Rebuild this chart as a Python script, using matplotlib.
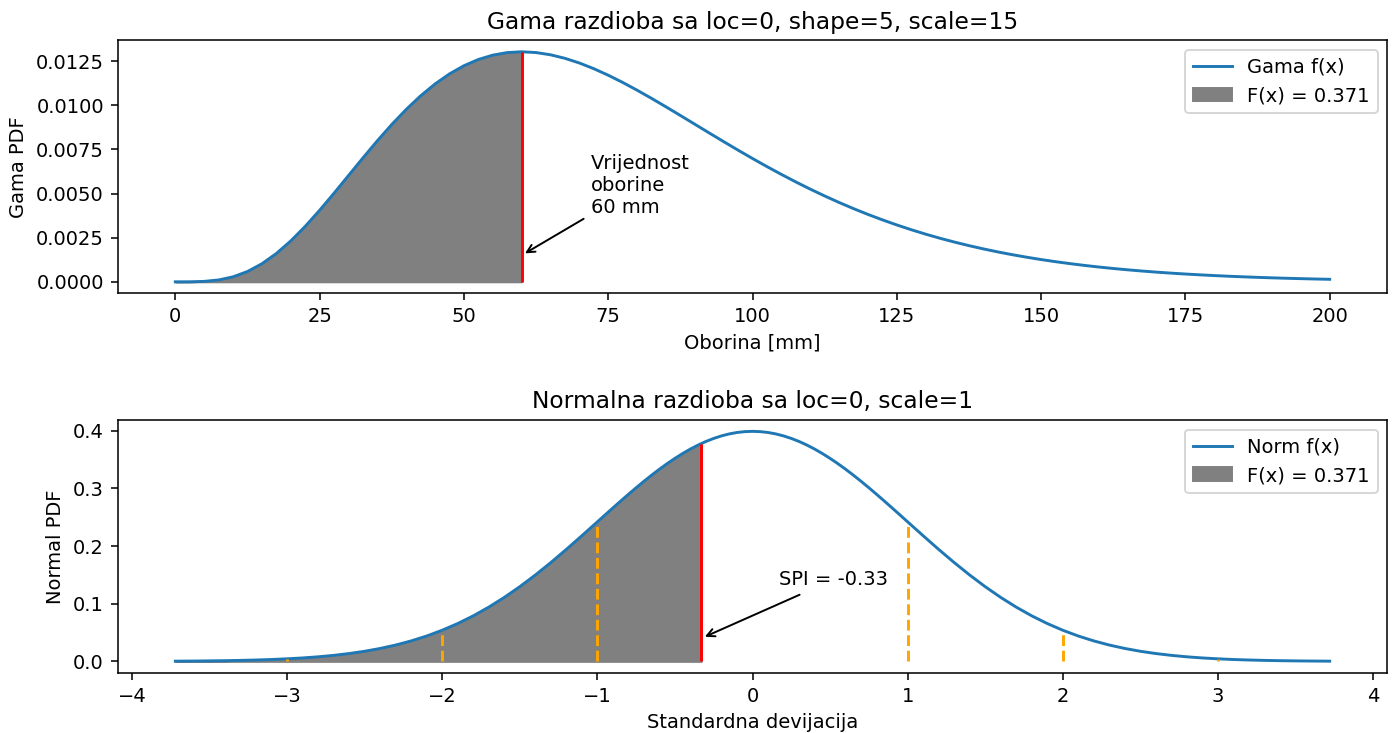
import numpy as np
import matplotlib
matplotlib.use("Agg")
import matplotlib.pyplot as plt

# gamma pdf (loc=0, shape=5, scale=15), read every 2.5 mm
gama_x = [0, 2.5, 5, 7.5, 10, 12.5, 15, 17.5, 20, 22.5, 25, 27.5, 30, 32.5, 35, 37.5, 40,
          42.5, 45, 47.5, 50, 52.5, 55, 57.5, 60, 62.5, 65, 67.5, 70, 72.5, 75, 77.5, 80,
          82.5, 85, 87.5, 90, 92.5, 95, 97.5, 100, 102.5, 105, 107.5, 110, 112.5, 115,
          117.5, 120, 122.5, 125, 127.5, 130, 132.5, 135, 137.5, 140, 142.5, 145, 147.5,
          150, 152.5, 155, 157.5, 160, 162.5, 165, 167.5, 170, 172.5, 175, 177.5, 180,
          182.5, 185, 187.5, 190, 192.5, 195, 197.5, 200]
gama_pdf = [0.0, 0.0000018, 0.0000246, 0.0001053, 0.0002817, 0.0005822, 0.0010219, 0.0016025,
            0.0023142, 0.0031378, 0.0040483, 0.0050172, 0.0060149, 0.0070129, 0.0079846,
            0.0089068, 0.0097600, 0.0105291, 0.0112021, 0.0117719, 0.0122339, 0.0125873,
            0.0128341, 0.0129779, 0.0130244, 0.0129805, 0.0128544, 0.0126538, 0.0123898,
            0.0120668, 0.0116978, 0.0112899, 0.0108504, 0.0103880, 0.0099083, 0.0094185,
            0.0089235, 0.0084284, 0.0079379, 0.0074546, 0.0069827, 0.0065241, 0.0060818,
            0.0056560, 0.0052491, 0.0048611, 0.0044923, 0.0041448, 0.0038168, 0.0035086,
            0.0032198, 0.0029503, 0.0026989, 0.0024656, 0.0022491, 0.0020488, 0.0018639,
            0.0016935, 0.0015368, 0.0013930, 0.0012611, 0.0011405, 0.0010303, 0.0009297,
            0.0008381, 0.0007549, 0.0006793, 0.0006106, 0.0005484, 0.0004922, 0.0004413,
            0.0003954, 0.0003539, 0.0003166, 0.0002830, 0.0002527, 0.0002256, 0.0002012,
            0.0001793, 0.0001597, 0.0001422]

# standard normal pdf
norm_x = [-3.72, -3.7, -3.6, -3.5, -3.4, -3.3, -3.2, -3.1, -3.0, -2.9, -2.8, -2.7, -2.6, -2.5,
          -2.4, -2.3, -2.2, -2.1, -2.0, -1.9, -1.8, -1.7, -1.6, -1.5, -1.4, -1.3, -1.2, -1.1,
          -1.0, -0.95, -0.9, -0.85, -0.8, -0.75, -0.7, -0.65, -0.6, -0.55, -0.5, -0.45,
          -0.4, -0.35, -0.3, -0.25, -0.2, -0.15, -0.1, -0.05, 0.0, 0.05, 0.1, 0.15, 0.2,
          0.25, 0.3, 0.35, 0.4, 0.45, 0.5, 0.55, 0.6, 0.65, 0.7, 0.75, 0.8, 0.85, 0.9, 0.95,
          1.0, 1.1, 1.2, 1.3, 1.4, 1.5, 1.6, 1.7, 1.8, 1.9, 2.0, 2.1, 2.2, 2.3, 2.4, 2.5,
          2.6, 2.7, 2.8, 2.9, 3.0, 3.1, 3.2, 3.3, 3.4, 3.5, 3.6, 3.7, 3.72]
norm_pdf = [0.000395, 0.000425, 0.000612, 0.000873, 0.001232, 0.001723, 0.002384, 0.003267,
            0.004432, 0.005953, 0.007915, 0.010421, 0.013583, 0.017528, 0.022395, 0.028327,
            0.035475, 0.043984, 0.053991, 0.065616, 0.078950, 0.094049, 0.110921, 0.129518,
            0.149727, 0.171369, 0.194186, 0.217852,
            0.241971, 0.254059, 0.266085, 0.277985, 0.289692, 0.301137, 0.312254, 0.322973,
            0.333225, 0.342944, 0.352065, 0.360527, 0.368270, 0.375240, 0.381388, 0.386668,
            0.391043, 0.394479, 0.396953, 0.398444, 0.398942, 0.398444, 0.396953, 0.394479,
            0.391043, 0.386668, 0.381388, 0.375240, 0.368270, 0.360527, 0.352065, 0.342944,
            0.333225, 0.322973, 0.312254, 0.301137, 0.289692, 0.277985, 0.266085, 0.254059,
            0.241971, 0.217852, 0.194186, 0.171369, 0.149727, 0.129518, 0.110921, 0.094049,
            0.078950, 0.065616, 0.053991, 0.043984, 0.035475, 0.028327, 0.022395, 0.017528,
            0.013583, 0.010421, 0.007915, 0.005953, 0.004432, 0.003267, 0.002384, 0.001723,
            0.001232, 0.000873, 0.000612, 0.000425, 0.000395]

oborina = 60
oborina_pdf = 0.0130244
spi = -0.33
spi_pdf = 0.3778
cdf_label = "F(x) = 0.371"

sd_x = [-3, -2, -1, 1, 2, 3]
sd_pdf = [0.004432, 0.053991, 0.241971, 0.241971, 0.053991, 0.004432]

gx = np.array(gama_x, dtype=float)
gy = np.array(gama_pdf)
nx = np.array(norm_x)
ny = np.array(norm_pdf)

fig, (ax1, ax2) = plt.subplots(2, 1, figsize=(10, 5.236), dpi=140)

# gama
ax1.plot(gx, gy, label="Gama f(x)")
m = gx <= oborina
ax1.fill_between(gx[m], gy[m], color="grey", label=cdf_label)
ax1.vlines(oborina, 0, oborina_pdf, color="red")
ax1.annotate("Vrijednost\noborine\n60 mm", xy=(oborina, 0.0015), xytext=(72, 0.0039),
             arrowprops=dict(arrowstyle="->"))
ax1.set_title("Gama razdioba sa loc=0, shape=5, scale=15")
ax1.set_xlabel("Oborina [mm]")
ax1.set_ylabel("Gama PDF")
ax1.legend(loc="upper right")

# normalna
ax2.plot(nx, ny, label="Norm f(x)")
m = nx < spi
sx = np.append(nx[m], spi)
sy = np.append(ny[m], spi_pdf)
ax2.fill_between(sx, sy, color="grey", label=cdf_label)
ax2.vlines(spi, 0, spi_pdf, color="red")
ax2.vlines(sd_x, 0, sd_pdf, color="orange", linestyles="dashed")
ax2.annotate("SPI = -0.33", xy=(spi, 0.04), xytext=(0.17, 0.132),
             arrowprops=dict(arrowstyle="->"))
ax2.set_title("Normalna razdioba sa loc=0, scale=1")
ax2.set_xlabel("Standardna devijacija")
ax2.set_ylabel("Normal PDF")
ax2.legend(loc="upper right")

fig.subplots_adjust(left=0.084, right=0.991, top=0.945, bottom=0.082, hspace=0.5)
fig.savefig("out.png")
